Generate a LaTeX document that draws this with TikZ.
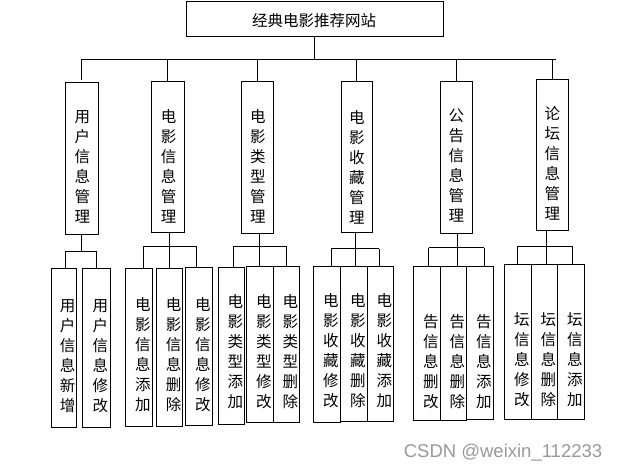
\documentclass[tikz,border=0pt]{standalone}
\usepackage{fontspec}
\setmainfont{Liberation Sans}
\newfontfamily\cjk{Noto Sans CJK SC}
\begin{document}
\begin{tikzpicture}[x=1pt,y=-1pt,
  box/.style={draw, line width=0.8pt, inner sep=0pt, rectangle},
  vt/.style={align=center, inner sep=0pt, font=\cjk\fontsize{15.5}{20}\selectfont},
  st/.style={vt, xshift=4pt},
  conn/.style={line width=0.8pt}]
\useasboundingbox (0,0) rectangle (618,471);
\fill[white] (0,0) rectangle (618,471);
% title
\node[box, minimum width=257pt, minimum height=35pt] (title) at (314.5,18.5) {};
\node[font=\cjk\fontsize{15.5}{18}\selectfont, inner sep=0pt] (title-t) at (314,20.5) {经典电影推荐网站};
% level 2
\node[box, minimum width=33pt, minimum height=151.7pt] (L1) at (81.8,158.15) {};
\node[box, minimum width=33pt, minimum height=151pt] (L2) at (167.8,156.8) {};
\node[box, minimum width=32pt, minimum height=152pt] (L3) at (257.3,157.3) {};
\node[box, minimum width=31pt, minimum height=151pt] (L4) at (356.8,156.8) {};
\node[box, minimum width=32pt, minimum height=152pt] (L5) at (456.3,157.3) {};
\node[box, minimum width=32pt, minimum height=151pt] (L6) at (552.3,154.8) {};
\node[vt] (L1-t) at (82.3,167) {用\\户\\信\\息\\管\\理};
\node[vt] (L2-t) at (168.5,166.7) {电\\影\\信\\息\\管\\理};
\node[vt] (L3-t) at (257.8,166.7) {电\\影\\类\\型\\管\\理};
\node[vt] (L4-t) at (356.8,167) {电\\影\\收\\藏\\管\\理};
\node[vt] (L5-t) at (456.3,166) {公\\告\\信\\息\\管\\理};
\node[vt] (L6-t) at (552.3,163.7) {论\\坛\\信\\息\\管\\理};
% level 3
\node[box, minimum width=24.7pt, minimum height=159pt] (S11) at (63.65,347.8) {};
\node[box, minimum width=28pt, minimum height=159pt] (S12) at (96.3,347.5) {};
\node[box, minimum width=27pt, minimum height=157.7pt] (S21) at (138.8,347.15) {};
\node[box, minimum width=26.4pt, minimum height=157.7pt] (S22) at (169.5,347.15) {};
\node[box, minimum width=27pt, minimum height=157.7pt] (S23) at (198.8,346.15) {};
\node[box, minimum width=26pt, minimum height=156.7pt] (S31) at (231.3,345.65) {};
\node[box, minimum width=27pt, minimum height=156.7pt] (S32) at (259.8,344.35) {};
\node[box, minimum width=26pt, minimum height=156.7pt] (S33) at (286.3,344.35) {};
\node[box, minimum width=27pt, minimum height=156.3pt] (S41) at (326.8,344.15) {};
\node[box, minimum width=27pt, minimum height=155pt] (S42) at (353.8,343.5) {};
\node[box, minimum width=26pt, minimum height=155pt] (S43) at (380.3,343.5) {};
\node[box, minimum width=27pt, minimum height=154.3pt] (S51) at (426.8,343.15) {};
\node[box, minimum width=26pt, minimum height=154.3pt] (S52) at (453.3,343.15) {};
\node[box, minimum width=27pt, minimum height=153pt] (S53) at (479.8,342.5) {};
\node[box, minimum width=27pt, minimum height=154.7pt] (S61) at (517.8,341.65) {};
\node[box, minimum width=26pt, minimum height=154.7pt] (S62) at (544.3,341.65) {};
\node[box, minimum width=27pt, minimum height=154.7pt] (S63) at (570.8,341.65) {};
\node[st] (S11-t) at (63.65,356) {用\\户\\信\\息\\新\\增};
\node[st] (S12-t) at (96.3,356) {用\\户\\信\\息\\修\\改};
\node[st] (S21-t) at (138.8,355) {电\\影\\信\\息\\添\\加};
\node[st] (S22-t) at (169.5,355) {电\\影\\信\\息\\删\\除};
\node[st] (S23-t) at (198.8,355) {电\\影\\信\\息\\修\\改};
\node[st] (S31-t) at (231.3,351.7) {电\\影\\类\\型\\添\\加};
\node[st] (S32-t) at (259.8,351.7) {电\\影\\类\\型\\修\\改};
\node[st] (S33-t) at (286.3,351.7) {电\\影\\类\\型\\删\\除};
\node[st] (S41-t) at (326.8,351) {电\\影\\收\\藏\\修\\改};
\node[st] (S42-t) at (353.8,351) {电\\影\\收\\藏\\删\\除};
\node[st] (S43-t) at (380.3,351) {电\\影\\收\\藏\\添\\加};
\node[st] (S51-t) at (426.8,361.7) {告\\信\\息\\删\\改};
\node[st] (S52-t) at (453.3,361.7) {告\\信\\息\\删\\除};
\node[st] (S53-t) at (479.8,361.7) {告\\信\\息\\添\\加};
\node[st] (S61-t) at (517.8,360) {坛\\信\\息\\修\\改};
\node[st] (S62-t) at (544.3,360) {坛\\信\\息\\删\\除};
\node[st] (S63-t) at (570.8,360) {坛\\信\\息\\添\\加};
% bus from title
\coordinate (busl) at (82,59);
\coordinate (busr) at (556,59);
\draw[conn] (title.south) -- (title.south |- busl);
\draw[conn] (busl) -- (busr);
\foreach \n in {L2,L3,L4,L5,L6} \draw[conn] (\n.north |- busl) -- (\n.north);
\draw[conn] (L1.north |- busl) -- ([yshift=2pt]L1.north);
% group connectors
\coordinate (g1l) at (65.3,251); \coordinate (g1m) at (81.8,251); \coordinate (g1r) at (96,251);
\coordinate (g2l) at (143.3,246); \coordinate (g2m) at (169.3,246); \coordinate (g2r) at (196,246);
\coordinate (g3l) at (233.3,246); \coordinate (g3m) at (259.3,246); \coordinate (g3r) at (286.3,246);
\coordinate (g4l) at (331.3,248.7); \coordinate (g4m) at (355.3,248.7); \coordinate (g4r) at (379.3,248.7);
\coordinate (g5l) at (428.7,247.7); \coordinate (g5m) at (457.3,247.7); \coordinate (g5r) at (484.3,247.7);
\coordinate (g6l) at (517.3,246); \coordinate (g6m) at (546,246); \coordinate (g6r) at (572.3,246);
\foreach \g in {1,...,6} {
  \draw[conn] (g\g m |- L\g.south) -- (g\g m);
  \draw[conn] (g\g l) -- (g\g r);
}
\draw[conn] (g1l) -- (g1l |- S11.north);
\draw[conn] (g1r) -- (g1r |- S12.north);
\foreach \g in {2,...,6} {
  \draw[conn] (g\g l) -- (g\g l |- S\g1.north);
  \draw[conn] (g\g m) -- (g\g m |- S\g2.north);
  \draw[conn] (g\g r) -- (g\g r |- S\g3.north);
}
% watermark
\node[text=black!40, font=\fontsize{18.5}{20}\selectfont, inner sep=0pt] (wm) at (503,452.7) {CSDN @weixin\_112233};
\end{tikzpicture}
\end{document}
